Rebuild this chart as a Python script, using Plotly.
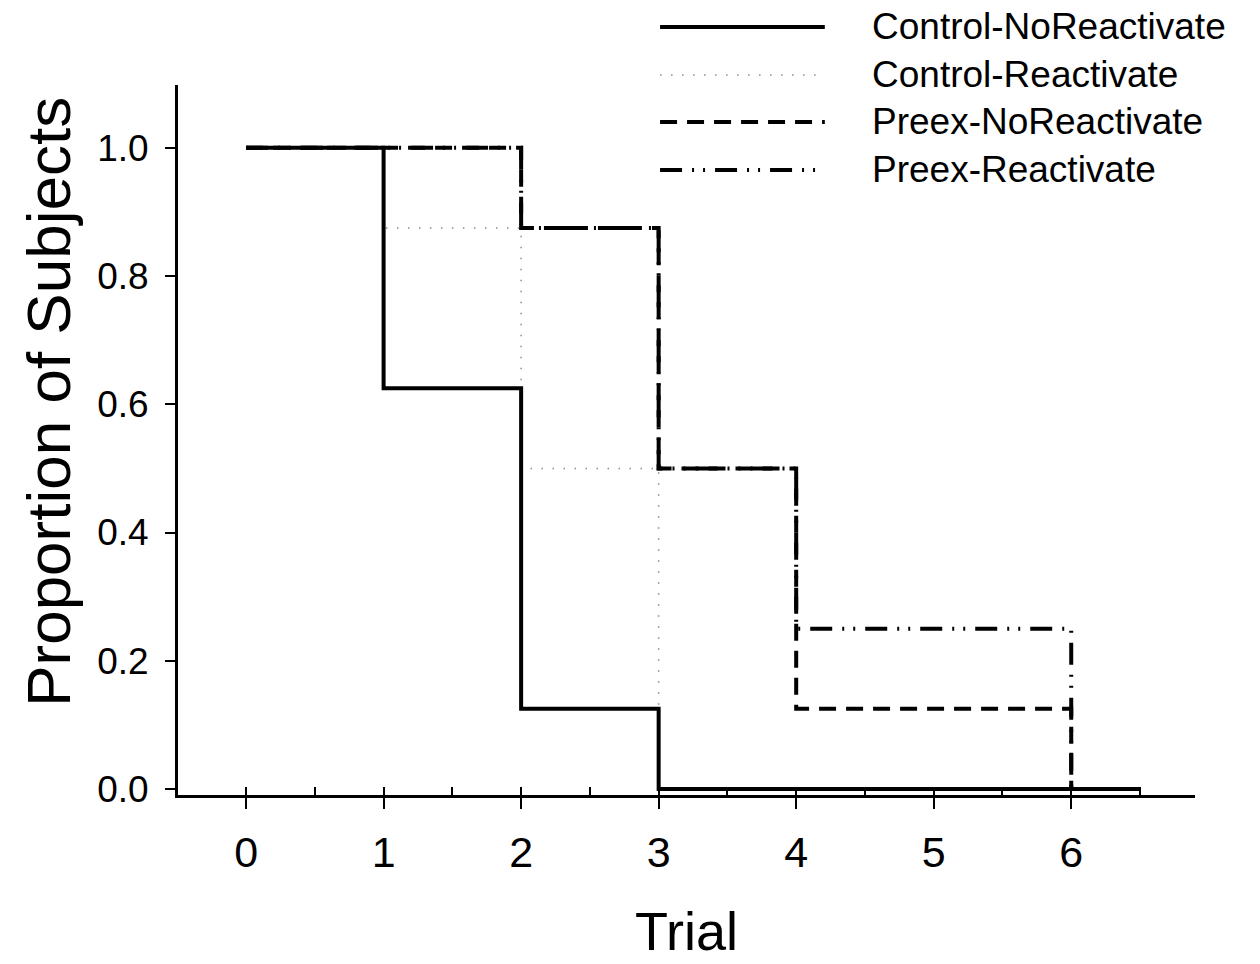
import plotly.graph_objects as go

# Survival-style step data: proportion of subjects still responding per trial
trials = [0, 1, 2, 3, 4, 5, 6, 6.5]
control_noreact = [1.0, 0.625, 0.125, 0.0, 0.0, 0.0, 0.0, 0.0]
control_react = [1.0, 0.875, 0.5, 0.0, 0.0, 0.0, 0.0, 0.0]
preex_noreact = [1.0, 1.0, 0.875, 0.5, 0.125, 0.125, 0.0, 0.0]
preex_react = [1.0, 1.0, 0.875, 0.5, 0.25, 0.25, 0.0, 0.0]

series_names = ["Control-NoReactivate", "Control-Reactivate",
                "Preex-NoReactivate", "Preex-Reactivate"]
x_ticks = [0, 1, 2, 3, 4, 5, 6]
y_ticks = [0.0, 0.2, 0.4, 0.6, 0.8, 1.0]

FONT = "Liberation Sans, Arial, sans-serif"

styles = {
    "Control-NoReactivate": dict(color="black", width=4, dash="solid"),
    "Control-Reactivate": dict(color="#8c8c8c", width=1.5, dash="1.5px,9.5px"),
    "Preex-NoReactivate": dict(color="black", width=4, dash="17px,10px"),
    "Preex-Reactivate": dict(color="black", width=4,
                             dash="22px,10px,2px,9px,2px,10px"),
}
values = {
    "Control-NoReactivate": control_noreact,
    "Control-Reactivate": control_react,
    "Preex-NoReactivate": preex_noreact,
    "Preex-Reactivate": preex_react,
}

fig = go.Figure()
draw_order = ["Control-Reactivate", "Preex-Reactivate",
              "Preex-NoReactivate", "Control-NoReactivate"]
for name in draw_order:
    fig.add_trace(go.Scatter(
        x=trials, y=values[name], name=name, mode="lines",
        line=dict(shape="hv", **styles[name]), showlegend=False,
    ))

# Legend drawn as long line samples with labels above the plot area
row_y = [1.0817, 1.0141, 0.9479, 0.8803]
shapes = []
annotations = []
for name, yy in zip(series_names, row_y):
    st = styles[name]
    shapes.append(dict(type="line", xref="paper", yref="paper",
                       x0=0.474, x1=0.636, y0=yy, y1=yy,
                       line=dict(color=st["color"], width=st["width"],
                                 dash=st["dash"])))
    annotations.append(dict(xref="paper", yref="paper", x=0.680, y=yy,
                            xanchor="left", yanchor="middle", text=name,
                            showarrow=False,
                            font=dict(family=FONT, size=37, color="black")))

annotations.append(dict(xref="paper", yref="paper", x=-0.128, y=0.5535,
                        xanchor="center", yanchor="middle", textangle=-90,
                        text="Proportion of Subjects", showarrow=False,
                        font=dict(family=FONT, size=62, color="black")))
annotations.append(dict(xref="paper", yref="paper", x=0.5, y=-0.192,
                        xanchor="center", yanchor="middle", text="Trial",
                        showarrow=False,
                        font=dict(family=FONT, size=54, color="black")))

fig.update_layout(
    width=1260, height=964,
    margin=dict(l=178, r=65, t=85, b=169),
    paper_bgcolor="white", plot_bgcolor="white",
    shapes=shapes, annotations=annotations,
    font=dict(family=FONT, color="black"),
)
fig.update_xaxes(
    range=[-0.495, 6.9], tickmode="array", tickvals=x_ticks,
    ticktext=[str(t) for t in x_ticks],
    showline=True, linecolor="black", linewidth=3,
    ticks="outside", ticklen=11, tickwidth=2, tickcolor="black",
    minor=dict(ticks="inside", dtick=0.5, tick0=0.5, ticklen=8,
               tickwidth=2, tickcolor="black"),
    showgrid=False, zeroline=False, ticklabelstandoff=6,
    tickfont=dict(family=FONT, size=43, color="black"),
)
fig.update_yaxes(
    range=[-0.0094, 1.098], tickmode="array", tickvals=y_ticks,
    ticktext=[f"{t:.1f}" for t in y_ticks],
    showline=True, linecolor="black", linewidth=3,
    ticks="outside", ticklen=10, tickwidth=2, tickcolor="black",
    showgrid=False, zeroline=False, ticklabelstandoff=9,
    tickfont=dict(family=FONT, size=37, color="black"),
)

fig.write_html("out.html")
